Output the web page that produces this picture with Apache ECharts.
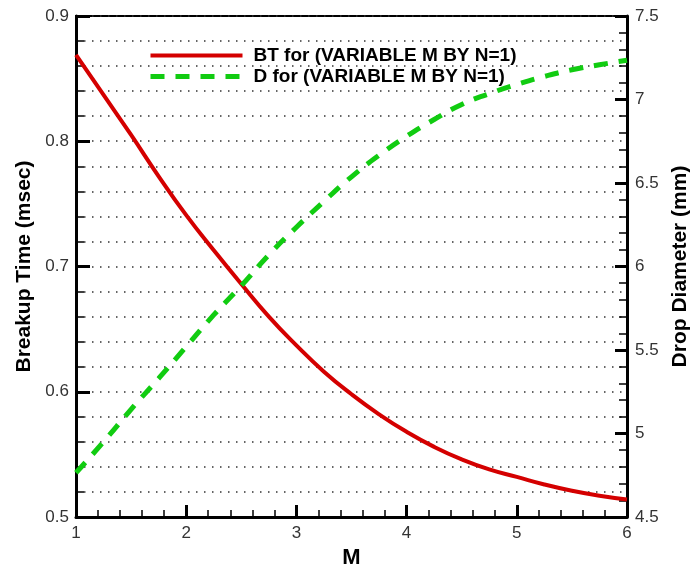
<!DOCTYPE html>
<html>
<head>
<meta charset="utf-8">
<script src="https://cdn.jsdelivr.net/npm/echarts@6/dist/echarts.min.js"></script>
<style>
  html, body { margin: 0; padding: 0; background: #fff; }
  #main { width: 693px; height: 565px; }
</style>
</head>
<body>
<div id="main"></div>
<script>
var M = [1, 1.25, 1.5, 1.75, 2, 2.25, 2.5, 2.75, 3, 3.25, 3.5, 3.75, 4, 4.25, 4.5, 4.75, 5, 5.25, 5.5, 5.75, 6];
var breakupTime = [0.869, 0.837, 0.805, 0.772, 0.741, 0.713, 0.686, 0.660, 0.637, 0.616, 0.598, 0.582, 0.568, 0.556, 0.546, 0.538, 0.532, 0.526, 0.521, 0.517, 0.514];
var dropDiameter = [4.765, 4.95, 5.145, 5.33, 5.52, 5.71, 5.885, 6.07, 6.235, 6.39, 6.537, 6.666, 6.78, 6.88, 6.97, 7.035, 7.09, 7.138, 7.178, 7.208, 7.235];
var seriesNames = ['BT for (VARIABLE M BY N=1)', 'D for (VARIABLE M BY N=1)'];

function pairs(xs, ys) {
    return xs.map(function (x, i) { return [x, ys[i]]; });
}

var myChart = echarts.init(document.getElementById('main'));

var red = '#d40000';
var green = '#11cc11';
var labelFont = { fontFamily: 'Liberation Sans', fontSize: 17, color: '#333' };
var titleFont = { fontFamily: 'Liberation Sans', fontSize: 21, fontWeight: 'bold', color: '#000' };
var dotted = { color: '#333', width: 1.5, type: [1.5, 6.5] };

var option = {
    animation: false,
    backgroundColor: '#fff',
    grid: {
        left: 76, right: 66, top: 16, bottom: 48,
        outerBoundsMode: 'none',
        show: true, borderColor: '#000', borderWidth: 2
    },
    legend: {
        orient: 'vertical',
        left: 143, top: 41,
        itemWidth: 92, itemHeight: 14, itemGap: 2,
        itemStyle: { opacity: 0 },
        data: [
            { name: seriesNames[0], lineStyle: { color: red, width: 4, type: 'solid' } },
            { name: seriesNames[1], lineStyle: { color: green, width: 5, type: [14, 11] } }
        ],
        textStyle: { fontFamily: 'Liberation Sans', fontSize: 19, fontWeight: 'bold', color: '#000', padding: [0, 0, 0, 6] }
    },
    xAxis: {
        type: 'value',
        min: 1, max: 6, interval: 1,
        name: 'M', nameLocation: 'middle', nameGap: 25,
        nameTextStyle: { fontFamily: 'Liberation Sans', fontSize: 22, fontWeight: 'bold', color: '#000' },
        axisLine: { lineStyle: { color: '#000', width: 3 } },
        axisTick: { inside: true, length: 12, lineStyle: { color: '#000', width: 3 } },
        minorTick: { show: true, splitNumber: 5, length: 7, lineStyle: { color: '#000', width: 1.5 } },
        axisLabel: Object.assign({ margin: 8 }, labelFont),
        splitLine: { show: false }
    },
    yAxis: [{
        type: 'value',
        min: 0.5, max: 0.9, interval: 0.1,
        name: 'Breakup Time (msec)', nameLocation: 'middle', nameGap: 37,
        nameTextStyle: titleFont,
        axisLine: { show: true, lineStyle: { color: '#000', width: 3 } },
        axisTick: { show: true, inside: true, length: 14, lineStyle: { color: '#000', width: 3 } },
        minorTick: { show: true, splitNumber: 5, length: 8, lineStyle: { color: '#000', width: 1.5 } },
        axisLabel: Object.assign({ margin: 7 }, labelFont),
        splitLine: { show: true, lineStyle: dotted },
        minorSplitLine: { show: true, lineStyle: dotted }
    }, {
        type: 'value',
        min: 4.5, max: 7.5, interval: 0.5,
        name: 'Drop Diameter (mm)', nameLocation: 'middle', nameGap: 42,
        nameRotate: 90,
        nameTextStyle: titleFont,
        axisLine: { show: true, lineStyle: { color: '#000', width: 3 } },
        axisTick: { show: true, inside: true, length: 12, lineStyle: { color: '#000', width: 3 } },
        minorTick: { show: true, splitNumber: 5, length: 8, lineStyle: { color: '#000', width: 1.5 } },
        axisLabel: Object.assign({ margin: 8 }, labelFont),
        splitLine: { show: false }
    }],
    series: [{
        name: seriesNames[0],
        type: 'line',
        yAxisIndex: 0,
        smooth: true,
        symbol: 'none',
        data: pairs(M, breakupTime),
        lineStyle: { color: red, width: 4 },
        itemStyle: { color: red }
    }, {
        name: seriesNames[1],
        type: 'line',
        yAxisIndex: 1,
        smooth: true,
        symbol: 'none',
        data: pairs(M, dropDiameter),
        lineStyle: { color: green, width: 5, type: [14, 11] },
        itemStyle: { color: green }
    }]
};
myChart.setOption(option);
</script>
</body>
</html>
